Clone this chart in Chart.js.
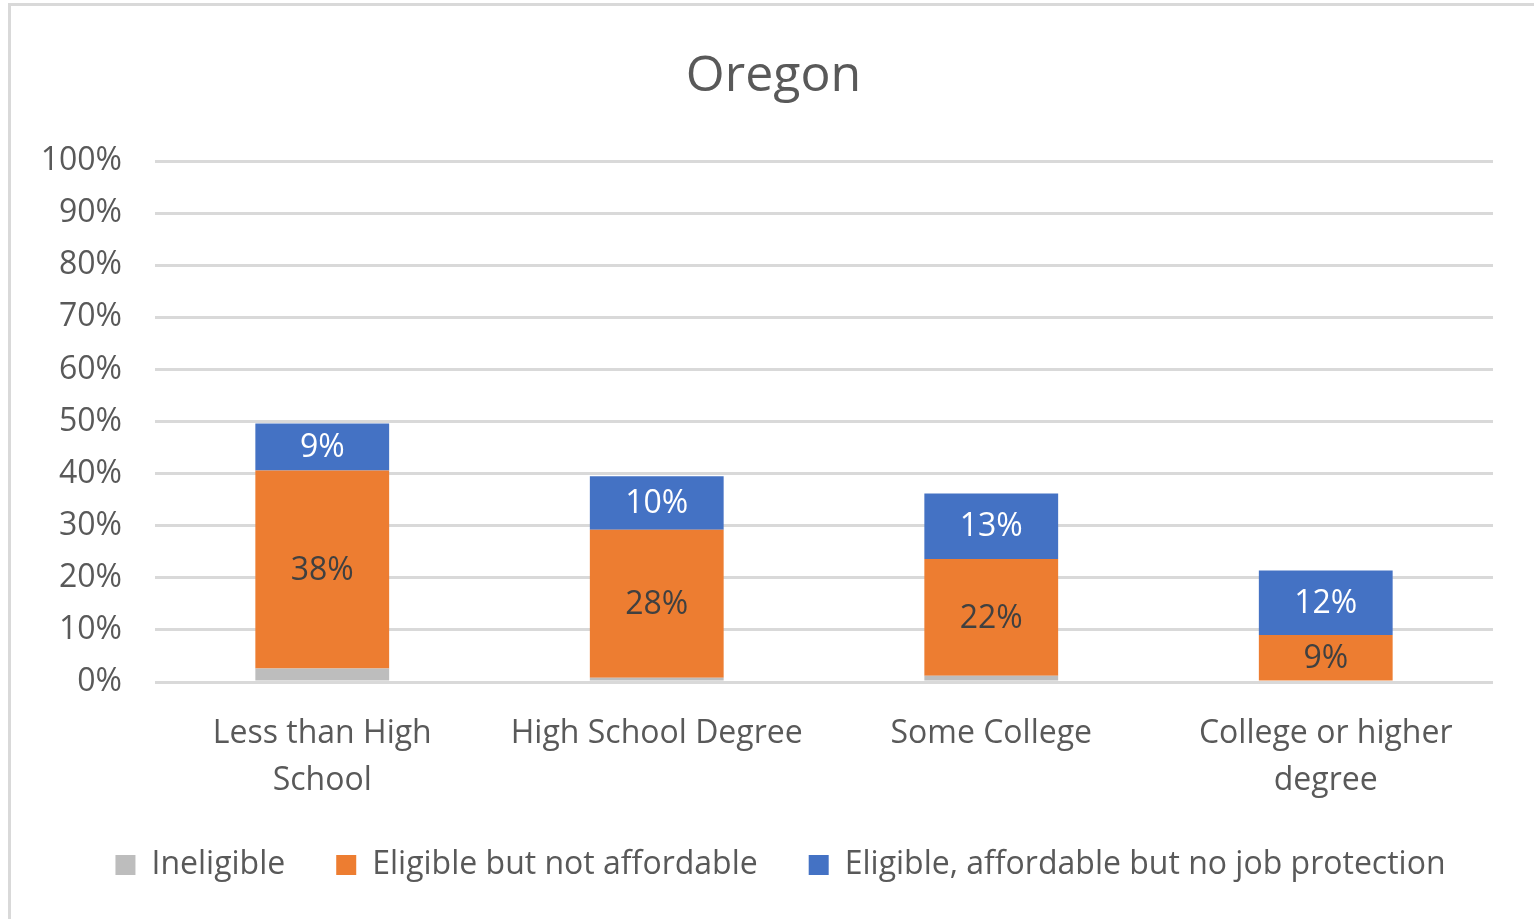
<!DOCTYPE html>
<html>
<head>
<meta charset="utf-8">
<script src="https://cdn.jsdelivr.net/npm/chart.js@4"></script>
<style>
  html, body { margin: 0; padding: 0; background: #fff; overflow: hidden; }
  #wrap { position: absolute; left: 0; top: 0; width: 1550px; height: 919px; }
  #frame { position: absolute; left: 8px; top: 3px; width: 1600px; height: 1000px;
           border: 3px solid #d9d9d9; pointer-events: none; }
</style>
</head>
<body>
<div id="wrap"><canvas id="chart"></canvas></div>
<div id="frame"></div>
<script>
// data (percent)
const categories = [['Less than High', 'School'], 'High School Degree', 'Some College', ['College or higher', 'degree']];
const ineligible = [2.6, 0.8, 1.2, 0];
const notAffordable = [38, 28.4, 22.4, 9];
const noProtection = [9, 10.3, 12.6, 12.4];
const yTicks = [0, 10, 20, 30, 40, 50, 60, 70, 80, 90, 100];

const FONT = '"Open Sans", Lato, sans-serif';
const SIZE = 32;

// labels inside the orange and blue segments
const barLabels = {
  id: 'barLabels',
  afterDatasetsDraw(chart) {
    const ctx = chart.ctx;
    ctx.save();
    ctx.font = SIZE + 'px ' + FONT;
    ctx.textAlign = 'center';
    ctx.textBaseline = 'middle';
    [1, 2].forEach(di => {
      const meta = chart.getDatasetMeta(di);
      const ds = chart.data.datasets[di];
      meta.data.forEach((bar, i) => {
        const v = ds.data[i];
        if (!v) return;
        ctx.fillStyle = di === 2 ? '#ffffff' : '#404040';
        ctx.fillText(Math.round(v) + '%', bar.x, (bar.y + bar.base) / 2 + 1);
      });
    });
    ctx.restore();
  }
};

// title and legend sit a bit right of the plot centre in the original
const shiftBoxes = {
  id: 'shiftBoxes',
  afterLayout(chart) {
    if (chart.titleBlock) { chart.titleBlock.left += 27; chart.titleBlock.right += 27; }
    if (chart.legend) { chart.legend.left += 34; chart.legend.right += 34; }
  }
};

new Chart(document.getElementById('chart'), {
  type: 'bar',
  data: {
    labels: categories,
    datasets: [
      { label: 'Ineligible', data: ineligible, backgroundColor: '#bdbdbd' },
      { label: 'Eligible but not affordable', data: notAffordable, backgroundColor: '#ed7d31' },
      { label: 'Eligible, affordable but no job protection', data: noProtection, backgroundColor: '#4472c4' }
    ]
  },
  options: {
    responsive: true,
    maintainAspectRatio: false,
    animation: false,
    layout: { padding: { left: 0, right: 57, top: 47, bottom: 28 } },
    datasets: { bar: { barPercentage: 0.4, categoryPercentage: 1 } },
    scales: {
      x: {
        stacked: true,
        afterFit(scale) { scale.height -= 26; },
        grid: { display: false },
        border: { display: false },
        ticks: {
          color: '#595959',
          font: { family: FONT, size: SIZE, lineHeight: '47px' },
          padding: 20,
          maxRotation: 0
        }
      },
      y: {
        stacked: true,
        min: 0,
        max: 100,
        afterFit(scale) { scale.width = 155; },
        afterBuildTicks(scale) { scale.ticks = yTicks.map(v => ({ value: v })); },
        grid: { color: '#d9d9d9', lineWidth: 3, drawTicks: false },
        border: { display: false },
        ticks: {
          color: '#595959',
          font: { family: FONT, size: SIZE },
          padding: 33,
          callback: v => v + '%'
        }
      }
    },
    plugins: {
      title: {
        display: true,
        text: 'Oregon',
        color: '#595959',
        font: { family: FONT, size: 50, weight: 'normal' },
        padding: { top: 0, bottom: 54 }
      },
      legend: {
        position: 'bottom',
        labels: {
          color: '#595959',
          font: { family: FONT, size: SIZE },
          boxWidth: 20,
          boxHeight: 20,
          padding: 51
        }
      },
      tooltip: { enabled: false }
    }
  },
  plugins: [barLabels, shiftBoxes]
});
</script>
</body>
</html>
